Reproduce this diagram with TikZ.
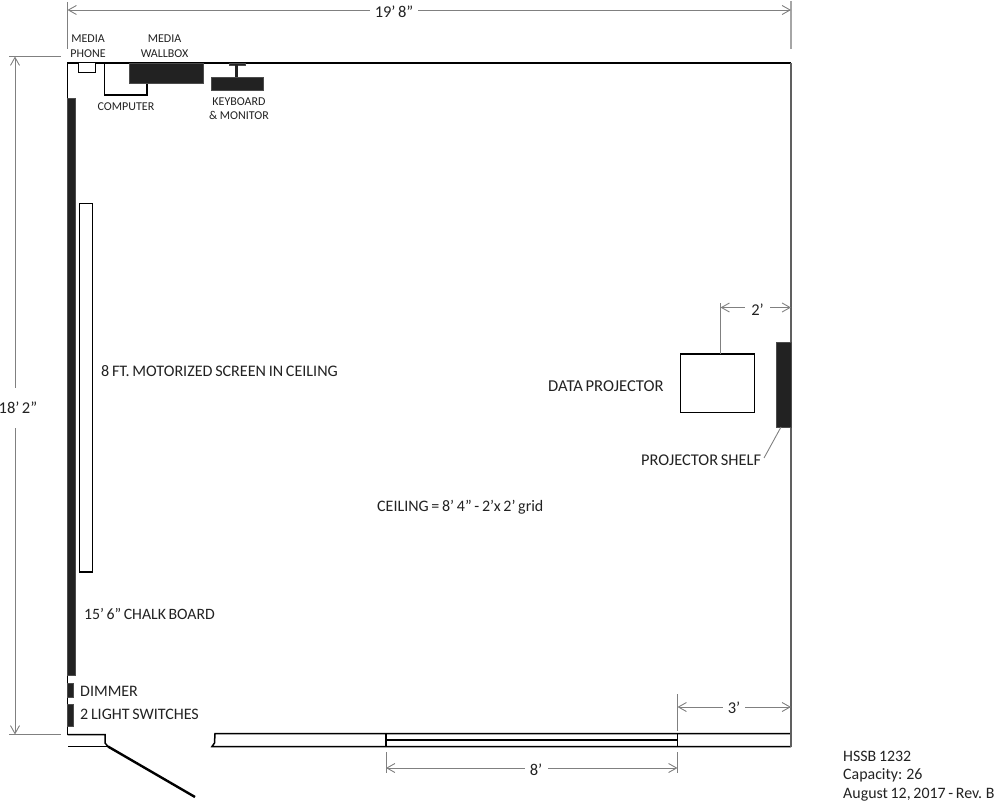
\documentclass[tikz,border=0pt]{standalone}
\usepackage{fontspec}
\setmainfont{Carlito}
\usetikzlibrary{arrows.meta}
\definecolor{ink}{HTML}{222222}
\definecolor{dim}{HTML}{808080}
\definecolor{rightwall}{HTML}{606060}
\newcommand{\tightwords}[1]{\spaceskip=#1\relax}
\tikzset{
  wall/.style={draw=black,line width=1.5pt,line cap=butt,line join=miter},
  solidbox/.style={fill=ink,draw=black!70,line width=0.6pt},
  outlinebox/.style={draw=black,line width=1.2pt,fill=white},
  dimline/.style={draw=dim,line width=0.9pt,{Straight Barb[length=8pt,width=9pt]}-{Straight Barb[length=8pt,width=9pt]}},
  ext/.style={draw=dim,line width=0.9pt},
  lab/.style={font={\fontsize{16}{18}\selectfont\tightwords{2.7pt}},text=ink,inner sep=0pt,align=center},
  biglab/.style={lab,font={\fontsize{16.4}{18}\selectfont\tightwords{2.7pt}}},
  smalllab/.style={font=\fontsize{12}{14.5}\selectfont,text=ink,inner sep=0pt,align=center},
  dimlab/.style={font={\fontsize{16.5}{18}\selectfont\tightwords{2.4pt}},text=ink,fill=white,inner sep=0pt,minimum height=14pt,anchor=center},
}
\begin{document}
\begin{tikzpicture}[x=1pt,y=-1pt]
\useasboundingbox (0,0) rectangle (1000,802);
% coordinates
\coordinate (tl) at (67.5,63);
\coordinate (tr) at (791,63);
\coordinate (br) at (791,746.5);
\coordinate (dimTL) at (67.5,10);
\coordinate (dimTR) at (791,10);
\coordinate (dimLT) at (15,56.5);
\coordinate (dimLB) at (15,734.5);
% extension lines
\draw[ext] (67.5,2) -- (67.5,49);
\draw[ext,draw=dim!70,line width=1.5pt] (791,1) -- (791,49);
\draw[ext] (9,56.5) -- (61,56.5);
\draw[ext] (9,734.5) -- (61,734.5);
% walls
\draw[wall] (108,746.5) -- (67.5,746.5);
\draw[wall] (67.5,734.5) -- (105,734.5) -- (105,743) -- (108,746.5);
\draw[wall] (67.5,734.5) -- (tl) -- (tr);
\draw[wall] (br) -- (212,746.5) -- (214.5,743) -- (215,733.5) -- (791,733.5);
\draw[draw=rightwall,line width=1.5pt] (tr) -- (br);
\draw[wall,line width=1.1pt] (386,740) -- (677.5,740);
\draw[wall] (386,733.5) -- (386,746.5);
\draw[wall] (677.5,733.5) -- (677.5,746.5);
\draw[black,line width=2.4pt] (108,746.5) -- (195,797);
% equipment top
\draw[outlinebox,line width=1pt] (78,63) rectangle (95.5,73);
\draw[outlinebox] (104.5,63) rectangle (147,95);
\draw[solidbox] (129.5,63.5) rectangle (203,83.5);
\draw[solidbox] (229,63.5) rectangle (245,65.5);
\draw[ink,line width=2.2pt] (236.5,65) -- (236.5,78);
\draw[solidbox] (211,77.5) rectangle (263,90);
% left wall items
\draw[solidbox] (67.5,98) rectangle (75.5,675);
\draw[solidbox] (67.5,683) rectangle (73,697);
\draw[solidbox] (67.5,704) rectangle (73,726);
\draw[outlinebox] (79.5,203.5) rectangle (92.5,572);
% projector
\draw[outlinebox] (680.5,354) rectangle (754.5,412.5);
\draw[solidbox] (776,342.5) rectangle (791,427);
% dimensions
\draw[ext] (720.5,354) -- (720.5,303);
\draw[ext] (677.5,694) -- (677.5,731);
\draw[ext] (386,752) -- (386,773);
\draw[ext] (677.5,752) -- (677.5,773);
\draw[ext] (781,427) -- (764,458);
\draw[dimline] (dimTL) -- (dimTR);
\draw[dimline] (dimLT) -- (dimLB);
\draw[dimline] (720.5,307.5) -- (791,307.5);
\draw[dimline] (677.5,707) -- (791,707);
\draw[dimline] (386,768) -- (677.5,768);
\node[dimlab,minimum width=48pt] (d1) at (394,12) {19’ 8”};
\node[dimlab,minimum width=36pt,minimum height=40pt] (d2) at (18,408) {18’ 2”};
\node[dimlab,minimum width=25pt] (d3) at (757.5,310) {2’};
\node[dimlab,minimum width=22pt] (d4) at (734,708) {3’};
\node[dimlab,minimum width=23pt] (d5) at (536,770) {8’};
% labels
\node[smalllab] (phone) at (88,46) {MEDIA\\PHONE};
\node[smalllab] (wallbox) at (164.5,46) {MEDIA\\WALLBOX};
\node[smalllab] (computer) at (126,107) {COMPUTER};
\node[smalllab] (keyboard) at (239,108.5) {KEYBOARD\\\&~MONITOR};
\node[lab,anchor=west,font={\fontsize{16.1}{18}\selectfont\tightwords{2.7pt}}] (screen) at (101,371) {8 FT. MOTORIZED SCREEN IN CEILING};
\node[lab,anchor=west,font={\fontsize{15.8}{18}\selectfont\tightwords{2.5pt}}] (chalk) at (84,613.5) {15’ 6” CHALK BOARD};
\node[lab,anchor=west] (dimmer) at (80,691) {DIMMER};
\node[lab,anchor=west] (switch) at (80,714.5) {2 LIGHT SWITCHES};
\node[biglab,anchor=west,font={\fontsize{16.6}{18}\selectfont\tightwords{2.7pt}}] (proj) at (548,386) {DATA PROJECTOR};
\node[biglab,anchor=west] (shelf) at (641,460) {PROJECTOR SHELF};
\node[lab,anchor=west] (ceil) at (377,507) {CEILING = 8’ 4” - 2’x 2’ grid};
\node[lab,anchor=north west,align=left,font={\fontsize{15.9}{18.5}\selectfont\tightwords{2.7pt}}] (info) at (843,750.5) {HSSB 1232\\Capacity: 26\\August 12, 2017 - Rev. B};
\end{tikzpicture}
\end{document}
